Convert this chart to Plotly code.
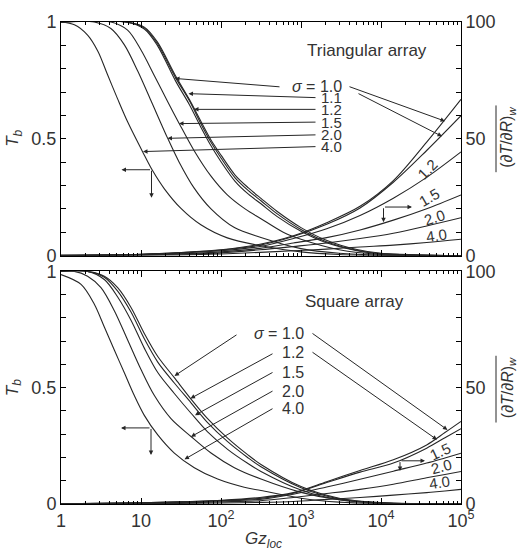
import plotly.graph_objects as go

# ---------------- data ----------------
sigmas_tri = ["1.0", "1.1", "1.2", "1.5", "2.0", "4.0"]
sigmas_sq = ["1.0", "1.2", "1.5", "2.0", "4.0"]

# Triangular array: bulk temperature T_b (left axis)
tri_tb_x_cluster = [1, 6.5, 11, 16, 27, 40, 56, 75, 100, 150, 220, 316, 500, 1000, 2000, 5000, 10000, 100000]
tri_tb_10 = [1, 1.0, 0.978, 0.915, 0.77, 0.67, 0.575, 0.495, 0.43, 0.345, 0.29, 0.245, 0.19, 0.12, 0.068, 0.026, 0.01, 0.0]
tri_tb_11 = [1, 1.0, 0.975, 0.908, 0.762, 0.665, 0.565, 0.485, 0.418, 0.333, 0.278, 0.235, 0.18, 0.112, 0.062, 0.023, 0.009, 0.0]
tri_tb_12 = [1, 1.0, 0.97, 0.9, 0.748, 0.648, 0.55, 0.47, 0.402, 0.318, 0.263, 0.222, 0.168, 0.104, 0.057, 0.021, 0.008, 0.0]
tri_tb_x_15 = [1, 4.2, 6.8, 10, 14.7, 21.5, 30, 46, 75, 120, 200, 316, 600, 1000, 3000, 10000, 100000]
tri_tb_15 = [1, 1.0, 0.965, 0.88, 0.77, 0.66, 0.566, 0.45, 0.34, 0.26, 0.2, 0.158, 0.1, 0.07, 0.025, 0.005, 0.0]
tri_tb_x_20 = [1, 2.6, 4.2, 6.2, 9.1, 13.3, 21.5, 30, 46, 75, 147, 316, 1000, 3000, 10000, 100000]
tri_tb_20 = [1, 1.0, 0.972, 0.902, 0.79, 0.664, 0.503, 0.40, 0.29, 0.2, 0.12, 0.078, 0.03, 0.01, 0.002, 0.0]
tri_tb_x_40 = [1, 1.47, 2.15, 2.9, 3.8, 5.1, 6.8, 10.5, 14, 19.6, 31.6, 56, 120, 316, 1000, 3000, 10000, 100000]
tri_tb_40 = [1.0, 0.988, 0.944, 0.874, 0.776, 0.671, 0.573, 0.444, 0.363, 0.286, 0.202, 0.132, 0.076, 0.042, 0.016, 0.005, 0.001, 0.0]

# Triangular array: wall gradient (right axis)
tri_g_x = [1, 10, 30, 100, 307, 802, 2094, 5470, 14270, 37240, 100000]
tri_g_10 = [0.1, 0.6, 1.3, 2.5, 4.9, 8.5, 14.1, 21.1, 32.1, 48.6, 66.9]
tri_g_11 = [0.1, 0.6, 1.2, 2.4, 4.5, 8.2, 13.4, 20.4, 31.4, 45.0, 59.9]
tri_g_12 = [0.1, 0.5, 1.1, 2.1, 3.9, 7.3, 11.5, 17.2, 24.6, 33.5, 44.4]
tri_g_15 = [0.05, 0.4, 0.8, 1.6, 3.1, 5.4, 7.7, 11.0, 15.2, 20.1, 26.0]
tri_g_20 = [0.05, 0.3, 0.6, 1.2, 2.5, 3.9, 5.4, 7.3, 9.6, 12.7, 16.2]
tri_g_40 = [0.0, 0.15, 0.3, 0.7, 1.4, 2.1, 2.8, 3.7, 4.5, 5.6, 7.0]

# Square array: T_b (left axis)
sq_tb_x_cluster = [1, 2.15, 3.48, 5.11, 7.5, 11, 16.2, 26.1, 42.2, 68, 121, 215, 316, 1000, 3000, 10000, 100000]
sq_tb_10 = [1, 1.0, 0.979, 0.93, 0.845, 0.733, 0.634, 0.543, 0.451, 0.367, 0.283, 0.212, 0.17, 0.075, 0.025, 0.006, 0.0]
sq_tb_12 = [1, 1.0, 0.975, 0.915, 0.825, 0.71, 0.61, 0.52, 0.435, 0.35, 0.268, 0.2, 0.16, 0.07, 0.022, 0.005, 0.0]
sq_tb_15 = [1, 1.0, 0.965, 0.89, 0.79, 0.67, 0.565, 0.475, 0.39, 0.31, 0.235, 0.175, 0.14, 0.06, 0.018, 0.004, 0.0]
sq_tb_x_20 = [1, 1.47, 2.15, 3.16, 4.64, 6.81, 10, 14.7, 23.7, 42.2, 75, 147, 316, 1000, 3000, 10000, 100000]
sq_tb_20 = [1, 1.0, 0.979, 0.93, 0.831, 0.705, 0.578, 0.466, 0.367, 0.29, 0.219, 0.156, 0.107, 0.05, 0.018, 0.004, 0.0]
sq_tb_x_40 = [1, 1.78, 2.61, 3.48, 4.64, 6.19, 8.25, 11.0, 16.2, 26.1, 46.4, 90.8, 195, 316, 1000, 3000, 10000, 100000]
sq_tb_40 = [0.986, 0.944, 0.859, 0.761, 0.662, 0.564, 0.466, 0.381, 0.297, 0.219, 0.156, 0.107, 0.072, 0.058, 0.025, 0.008, 0.002, 0.0]

# Square array: wall gradient (right axis)
sq_g_x = [1, 10, 30, 100, 307, 802, 2094, 5470, 14270, 37240, 63000, 100000]
sq_g_10 = [0.1, 0.5, 0.9, 1.6, 2.8, 4.9, 9.6, 14.4, 19.0, 25.4, 30.7, 35.5]
sq_g_12 = [0.1, 0.5, 0.9, 1.5, 2.4, 4.6, 9.2, 13.7, 17.6, 24.0, 28.5, 32.4]
sq_g_15 = [0.05, 0.4, 0.7, 1.3, 2.0, 4.2, 7.3, 10.6, 14.1, 17.6, 19.8, 21.8]
sq_g_20 = [0.05, 0.3, 0.5, 0.9, 1.4, 2.8, 4.5, 6.3, 8.5, 11.3, 12.7, 14.0]
sq_g_40 = [0.0, 0.15, 0.25, 0.45, 0.7, 1.1, 2.0, 2.8, 3.8, 4.9, 5.6, 6.3]

x_tick_vals = [1, 10, 100, 1000, 10000, 100000]
x_tick_text = ["1", "10", "10<sup>2</sup>", "10<sup>3</sup>", "10<sup>4</sup>", "10<sup>5</sup>"]

# ---------------- figure ----------------
W, H = 519, 554
ML, MR, MT, MB = 61, 58, 13, 50
PW, PH = W - ML - MR, H - MT - MB
LINE = "#262626"
TXT = "#333333"
FONT = "Liberation Sans, Arial, sans-serif"


def P(px, py):
    return (px - ML) / PW, (H - MB - py) / PH


fig = go.Figure()


def add(x, y, xa, ya):
    fig.add_trace(go.Scatter(x=x, y=y, xaxis=xa, yaxis=ya, mode="lines",
                             line=dict(color=LINE, width=1.1, shape="spline", smoothing=0.9),
                             hoverinfo="skip", showlegend=False))


for yv in (tri_tb_10, tri_tb_11, tri_tb_12):
    add(tri_tb_x_cluster, yv, "x", "y")
add(tri_tb_x_15, tri_tb_15, "x", "y")
add(tri_tb_x_20, tri_tb_20, "x", "y")
add(tri_tb_x_40, tri_tb_40, "x", "y")
for yv in (tri_g_10, tri_g_11, tri_g_12, tri_g_15, tri_g_20, tri_g_40):
    add(tri_g_x, yv, "x", "y2")

for yv in (sq_tb_10, sq_tb_12, sq_tb_15):
    add(sq_tb_x_cluster, yv, "x2", "y3")
add(sq_tb_x_20, sq_tb_20, "x2", "y3")
add(sq_tb_x_40, sq_tb_40, "x2", "y3")
for yv in (sq_g_10, sq_g_12, sq_g_15, sq_g_20, sq_g_40):
    add(sq_g_x, yv, "x2", "y4")

top_dom = [(H - MB - 251) / PH, 1.0]
bot_dom = [0.0, (H - MB - 267) / PH]

xcommon = dict(type="log", range=[0, 5], showline=True, linecolor="black", linewidth=1,
               mirror="ticks", ticks="inside", ticklen=6, tickcolor="black",
               tickvals=x_tick_vals, ticktext=x_tick_text, showgrid=False, zeroline=False,
               minor=dict(ticks="inside", ticklen=3, tickcolor="black", dtick="D1", showgrid=False),
               tickfont=dict(family=FONT, size=18, color=TXT))
ycommon = dict(showline=True, linecolor="black", linewidth=1, ticks="inside", ticklen=5,
               tickcolor="black", showgrid=False, zeroline=False,
               tickfont=dict(family=FONT, size=18, color=TXT))

fig.update_layout(
    width=W, height=H, margin=dict(l=ML, r=MR, t=MT, b=MB),
    paper_bgcolor="white", plot_bgcolor="white", showlegend=False,
    xaxis=dict(xcommon, anchor="y", showticklabels=False),
    xaxis2=dict(xcommon, anchor="y3", showticklabels=True),
    yaxis=dict(ycommon, domain=top_dom, range=[0, 1], dtick=0.5, anchor="x",
               minor=dict(dtick=0.1, ticks="inside", ticklen=5, tickcolor="black")),
    yaxis2=dict(ycommon, overlaying="y", side="right", range=[0, 100], dtick=50, anchor="x",
                minor=dict(dtick=10, ticks="inside", ticklen=5, tickcolor="black")),
    yaxis3=dict(ycommon, domain=bot_dom, range=[0, 1], dtick=0.5, anchor="x2",
                minor=dict(dtick=0.1, ticks="inside", ticklen=5, tickcolor="black")),
    yaxis4=dict(ycommon, overlaying="y3", side="right", range=[0, 100], dtick=50, anchor="x2",
                minor=dict(dtick=10, ticks="inside", ticklen=5, tickcolor="black")),
)

ann = []


def text(px, py, s, size=15, angle=0, xanchor="center"):
    x, y = P(px, py)
    ann.append(dict(x=x, y=y, xref="paper", yref="paper", text=s, showarrow=False,
                    textangle=angle, xanchor=xanchor, yanchor="middle",
                    font=dict(family=FONT, size=size, color=TXT)))


def arrow(tip, tail, head=2, size=0.9):
    x, y = P(*tip)
    ann.append(dict(x=x, y=y, xref="paper", yref="paper", text="", showarrow=True,
                    ax=tail[0] - tip[0], ay=tail[1] - tip[1], arrowhead=head,
                    arrowsize=size, arrowwidth=1, arrowcolor=LINE, standoff=0, startstandoff=0))


def seg(p0, p1):
    fig.add_shape(type="line", xref="paper", yref="paper",
                  x0=P(*p0)[0], y0=P(*p0)[1], x1=P(*p1)[0], y1=P(*p1)[1],
                  line=dict(color=LINE, width=1))


# ---- top panel (triangular) ----
text(367, 42, "Triangular array", size=17)
text(344, 79, "<i>σ</i> = 1.0", size=16, xanchor="right")
lab_y_top = [90, 102, 115, 128, 140]
for s, yy in zip(sigmas_tri[1:], lab_y_top):
    text(344, yy, s, xanchor="right")
# leader arrows to T_b curves
arrow((175, 70.5), (281, 79))
arrow((188.5, 86), (317, 90))
arrow((194, 102), (317, 102))
arrow((179, 116.5), (317, 115))
arrow((167.5, 131.5), (317, 128))
arrow((143, 145), (317, 140))
# arrows to gradient curves
arrow((445, 114), (348, 79))
arrow((442, 129.5), (357, 86))
text(427, 163, "1.2", angle=-45)
text(429, 192, "1.5", angle=-30)
text(434, 212, "2.0", angle=-18)
text(436, 230, "4.0", angle=-8)
# axis indicator arrows
arrow((121.5, 163.5), (151.5, 163.5), head=2)
arrow((151.5, 192), (151.5, 163.5), head=2)
arrow((412, 201.5), (383.5, 201.5), head=2)
arrow((383.5, 217), (383.5, 201.5), head=2)

# ---- bottom panel (square) ----
text(354, 298, "Square array", size=17)
text(306, 330, "<i>σ</i> = 1.0", size=16, xanchor="right")
lab_y_bot = [350, 370, 389, 407]
for s, yy in zip(sigmas_sq[1:], lab_y_bot):
    text(306, yy, s, size=16, xanchor="right")
arrow((174.5, 373.5), (238, 331.5))
arrow((190.5, 396.5), (274, 351))
arrow((195, 413.5), (274, 370))
arrow((191, 435.5), (274, 389))
arrow((184.5, 458.5), (274, 407))
arrow((447.5, 428.5), (311, 331))
arrow((437, 438.5), (311, 350))
text(440, 451, "1.5", angle=-25)
text(441, 466, "2.0", angle=-15)
text(439, 482, "4.0", angle=-8)
arrow((121, 426.5), (151, 426.5), head=2)
arrow((151, 454), (151, 426.5), head=2)
arrow((425, 460), (400, 460), head=2)
arrow((400, 470.5), (400, 460), head=2)

# axis titles
text(14, 132, "<i>T<sub>b</sub></i>", size=17, angle=-90)
text(14, 386, "<i>T<sub>b</sub></i>", size=17, angle=-90)
text(508, 131, "(∂<i>T</i>/∂<i>R</i>)<sub><i>w</i></sub>", size=16, angle=-90)
text(508, 386, "(∂<i>T</i>/∂<i>R</i>)<sub><i>w</i></sub>", size=16, angle=-90)
seg((496, 98), (496, 166))
seg((496, 353), (496, 421))
text(263, 541, "<i>Gz<sub>loc</sub></i>", size=17)

fig.update_layout(annotations=ann)
fig.write_html("out.html")
